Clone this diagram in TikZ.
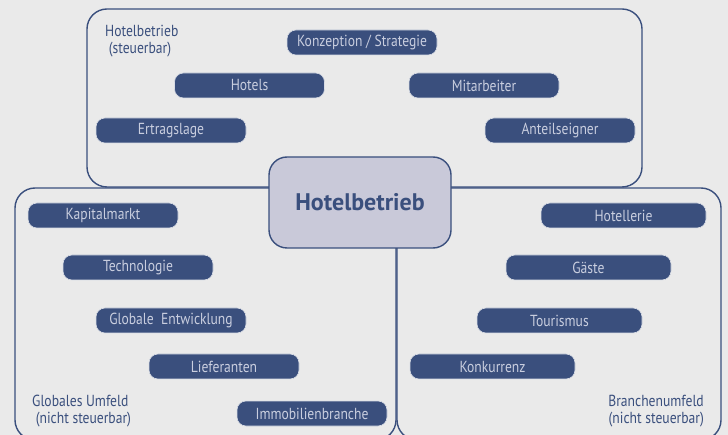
\documentclass[tikz,border=0pt]{standalone}
\usepackage{fontspec}
\setmainfont{PT Sans}[FakeStretch=0.85]
\newfontfamily\titlefont{PT Sans}
\definecolor{navy}{HTML}{3A4F7D}
\definecolor{pilltext}{HTML}{C9CEDF}
\definecolor{bgcol}{HTML}{EAEAEA}
\definecolor{centerfill}{HTML}{C9C9D9}
\begin{document}
\begin{tikzpicture}[x=1pt,y=-1pt,
 pill/.style={draw=white!80!navy, line width=0.6pt, fill=navy, text=pilltext, rounded corners=9pt, minimum height=25pt, inner sep=0pt, font=\fontsize{16}{17}\selectfont},
 pillA/.style={pill, minimum width=150pt},
 pillB/.style={pill, minimum width=165pt},
 area/.style={draw=navy, line width=1.4pt, rounded corners=20pt},
 lbl/.style={text=navy, font=\fontsize{16}{17}\selectfont, inner sep=0pt}]
\useasboundingbox (0,0) rectangle (728,435);
\fill[bgcol] (0,0) rectangle (728,435);
\begin{scope}
\clip (0,0) rectangle (728,435);
\draw[area] (87,9) rectangle (642,187);
\draw[area] (15,188) rectangle (396,440);
\draw[area] (397,188) rectangle (721,440);
\end{scope}
\node[draw=navy, line width=1.4pt, fill=centerfill, rounded corners=18pt, minimum width=182pt, minimum height=91pt, inner sep=0pt, text=navy, font=\titlefont\bfseries\fontsize{24}{28}\selectfont] (hb) at (360,202.5) {Hotelbetrieb};
% top area
\node[pillA] (konz) at (362,42.5) {Konzeption / Strategie};
\node[pillA] (hotels) at (249.5,85.5) {Hotels};
\node[pillA] (mita) at (484,85.5) {Mitarbeiter};
\node[pillA] (ertr) at (171,130.5) {Ertragslage};
\node[pillA] (anteil) at (560,130.5) {Anteilseigner};
% left area
\node[pillA] (kap) at (103,215.5) {Kapitalmarkt};
\node[pillA] (tech) at (138,267.5) {Technologie};
\node[pillA] (glob) at (171,320.5) {Globale\ \ Entwicklung};
\node[pillA] (lief) at (224,366.5) {Lieferanten};
\node[pillA] (immo) at (312,413.5) {Immobilienbranche};
% right area
\node[pillB] (hotl) at (623.5,215.5) {Hotellerie};
\node[pillB] (gaeste) at (588.5,267.5) {Gäste};
\node[pillB] (tour) at (559.5,320.5) {Tourismus};
\node[pillB] (konk) at (492.5,366.5) {Konkurrenz};
% labels
\node[lbl, anchor=north west, align=left] (l1) at (105,24.5) {Hotelbetrieb\\\ (steuerbar)};
\node[lbl, anchor=north west, align=left] (l2) at (32,394.5) {Globales Umfeld\\\ (nicht steuerbar)};
\node[lbl, anchor=north east, align=right] (l3) at (704,394.5) {Branchenumfeld\\(nicht steuerbar)};
\end{tikzpicture}
\end{document}
